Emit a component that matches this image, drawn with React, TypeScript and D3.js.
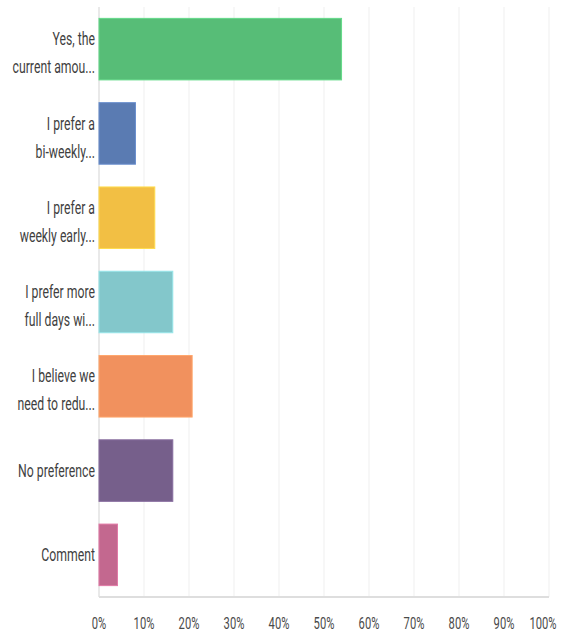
import * as d3 from 'd3';
import * as React from 'react';

// answer labels, already wrapped and truncated the way the survey tool shows them
const categories: string[][] = [
    ['Yes, the', 'current amou...'],
    ['I prefer a', 'bi-weekly...'],
    ['I prefer a', 'weekly early...'],
    ['I prefer more', 'full days wi...'],
    ['I believe we', 'need to redu...'],
    ['No preference'],
    ['Comment'],
];

// share of responses, percent
const values: number[] = [53.9, 8.1, 12.4, 16.4, 20.7, 16.4, 4.1];

const colors: string[] = ['#57bd77', '#5a7bb2', '#f2bf44', '#83c7cb', '#f1915e', '#765f8b', '#c3688f'];

const ticks: number[] = [0, 10, 20, 30, 40, 50, 60, 70, 80, 90, 100];

const width = 562;
const height = 634;
const margin = { top: 7, right: 13, bottom: 37, left: 99 };
const font = "Roboto, 'Noto Sans', sans-serif";
// the reference uses a condensed face; squeeze a regular one horizontally
const squeeze = 0.7;

export default function App() {
    const innerW = width - margin.left - margin.right;
    const innerH = height - margin.top - margin.bottom;

    const x = d3.scaleLinear().domain([0, 100]).range([0, innerW]);
    const y = d3.scaleBand<number>()
        .domain(d3.range(categories.length))
        .range([0, innerH])
        .paddingInner(0.27)
        .paddingOuter(0.135);

    // keep the last tick label inside the frame, like the original does
    const tickX = (t: number) => Math.min(x(t), innerW + margin.right - 19);

    return (
        <svg
            width={width}
            height={height}
            style={{ position: 'absolute', left: 0, top: 0, background: '#fff' }}
        >
            <g transform={`translate(${margin.left},${margin.top})`}>
                {ticks.map(t => (
                    <line
                        key={'g' + t}
                        x1={x(t)}
                        x2={x(t)}
                        y1={0}
                        y2={innerH}
                        stroke={t === 0 ? '#e2e2e2' : '#efefef'}
                        strokeWidth={t === 0 ? 1.5 : 1}
                    />
                ))}
                <line x1={0} x2={innerW} y1={innerH} y2={innerH} stroke="#dedede" strokeWidth={2} />

                {values.map((v, i) => (
                    <rect
                        key={'b' + i}
                        x={x(0)}
                        y={y(i)}
                        width={x(v) - x(0)}
                        height={y.bandwidth()}
                        fill={colors[i]}
                        stroke={d3.color(colors[i]).brighter(0.4).toString()}
                        strokeWidth={1}
                    />
                ))}

                {categories.map((lines, i) => {
                    const cy = y(i) + y.bandwidth() / 2;
                    const off = lines.length > 1 ? 4 : 0;
                    return (
                        <g key={'l' + i} transform={`translate(-4,0) scale(${squeeze},1)`}>
                            <text
                                textAnchor="end"
                                fontFamily={font}
                                fontSize={17.5}
                                fill="#3f3f3f"
                            >
                                {lines.map((s, j) => (
                                    <tspan
                                        key={j}
                                        x={0}
                                        y={cy + (j - (lines.length - 1) / 2) * 28 + off}
                                        dy="0.35em"
                                    >
                                        {s}
                                    </tspan>
                                ))}
                            </text>
                        </g>
                    );
                })}

                {ticks.map(t => (
                    <g key={'t' + t} transform={`translate(${tickX(t)},${innerH + 26}) scale(${squeeze},1)`}>
                        <text
                            dy="0.35em"
                            textAnchor="middle"
                            fontFamily={font}
                            fontSize={16}
                            fill="#4a4a4a"
                        >
                            {t + '%'}
                        </text>
                    </g>
                ))}
            </g>
        </svg>
    );
}
